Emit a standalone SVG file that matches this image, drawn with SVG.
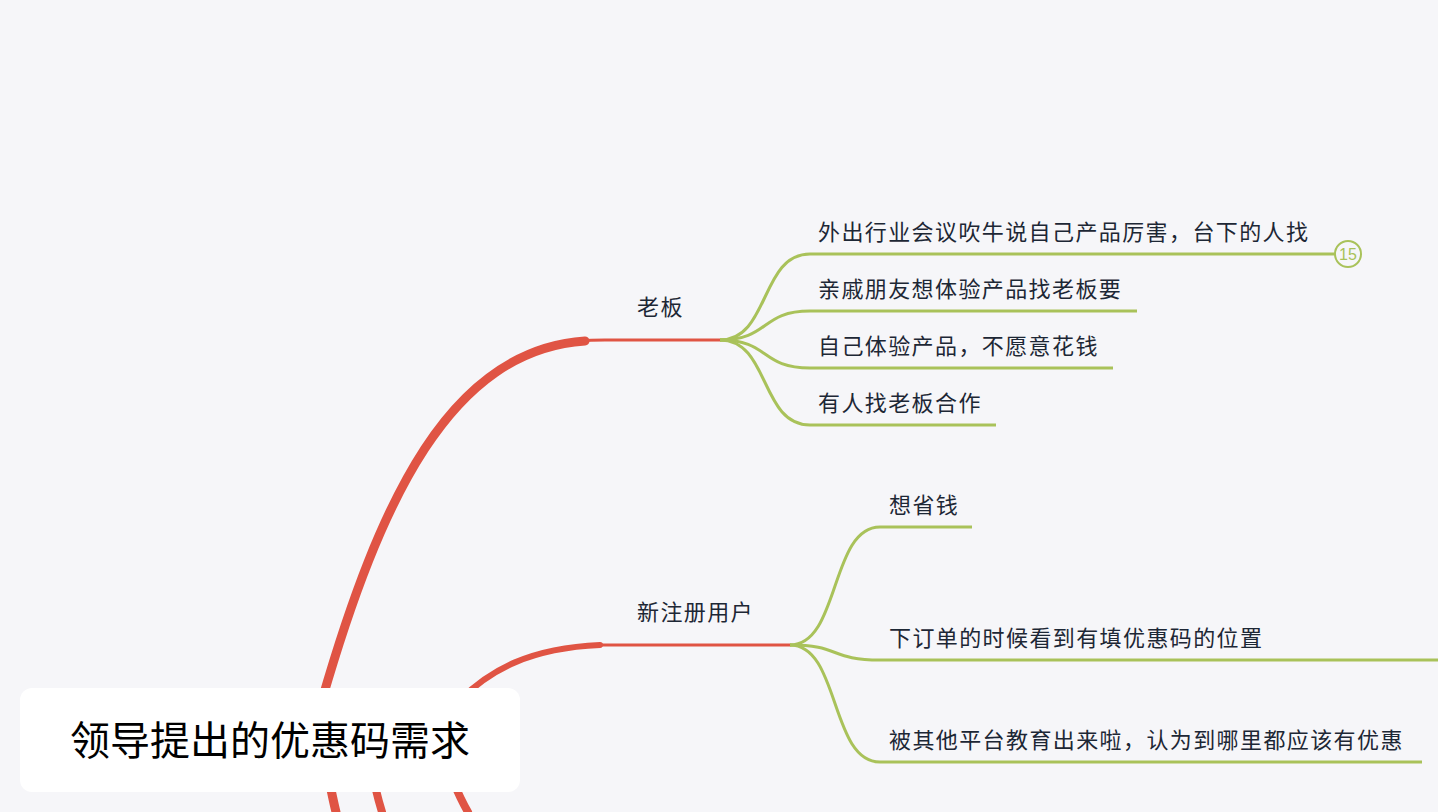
<svg xmlns="http://www.w3.org/2000/svg" width="1438" height="812" viewBox="0 0 1438 812">
<style>
text{font-family:"Noto Sans CJK SC","Liberation Sans",sans-serif;fill:#1d2735}
.t{font-size:22px;letter-spacing:1.4px}
.r{fill:none;stroke:#e05444;stroke-linecap:round}
.g{fill:none;stroke:#a9c25a;stroke-width:3}
</style>
<rect width="1438" height="812" fill="#f6f6f9"/>
<g id="connectors">
<path class="r" stroke-width="9" d="M322 700 C 380 500 450 350 585 341"/>
<path class="r" stroke-width="3" d="M580 341 C 590 340 595 340 605 340 H720"/>
<path class="r" stroke-width="6" d="M460 700 C 490 670 530 648 600 645"/>
<path class="r" stroke-width="3" d="M600 645 H790"/>
<path class="r" stroke-width="9" d="M315 700 C 322 740 328 780 336 812"/>
<path class="r" stroke-width="8" d="M360 700 C 366 740 372 780 382 812"/>
<path class="r" stroke-width="8" d="M430 720 C 445 760 455 790 468 812"/>
<path class="g" d="M720 340 C 770 340 760 254 810 254 H1335"/>
<path class="g" d="M720 340 C 770 340 760 311 810 311 H1137"/>
<path class="g" d="M720 340 C 770 340 760 368 810 368 H1113"/>
<path class="g" d="M720 340 C 770 340 760 425 810 425 H996"/>
<circle cx="1348" cy="254" r="13" fill="none" stroke="#a9c25a" stroke-width="2"/>
<path class="g" d="M790 645 C 840 645 830 527 880 527 H972"/>
<path class="g" d="M790 645 C 840 645 830 660 880 660 H1438"/>
<path class="g" d="M790 645 C 840 645 830 762 880 762 H1422"/>
</g>
<text x="1348" y="260" font-size="16" text-anchor="middle" style="fill:#a9c25a;font-family:'Liberation Sans',sans-serif">15</text>
<g id="root">
<rect x="20" y="688" width="500" height="104" rx="12" fill="#ffffff"/>
<text x="270" y="755" font-size="40" text-anchor="middle" style="fill:#000">领导提出的优惠码需求</text>
</g>
<g id="boss"><text class="t" x="637" y="315">老板</text></g>
<g id="b1"><text class="t" x="818" y="240">外出行业会议吹牛说自己产品厉害，台下的人找</text></g>
<g id="b2"><text class="t" x="818" y="297">亲戚朋友想体验产品找老板要</text></g>
<g id="b3"><text class="t" x="818" y="354">自己体验产品，不愿意花钱</text></g>
<g id="b4"><text class="t" x="818" y="411">有人找老板合作</text></g>
<g id="newuser"><text class="t" x="637" y="620">新注册用户</text></g>
<g id="n1"><text class="t" x="889" y="513">想省钱</text></g>
<g id="n2"><text class="t" x="889" y="646">下订单的时候看到有填优惠码的位置</text></g>
<g id="n3"><text class="t" x="889" y="748">被其他平台教育出来啦，认为到哪里都应该有优惠</text></g>
</svg>
